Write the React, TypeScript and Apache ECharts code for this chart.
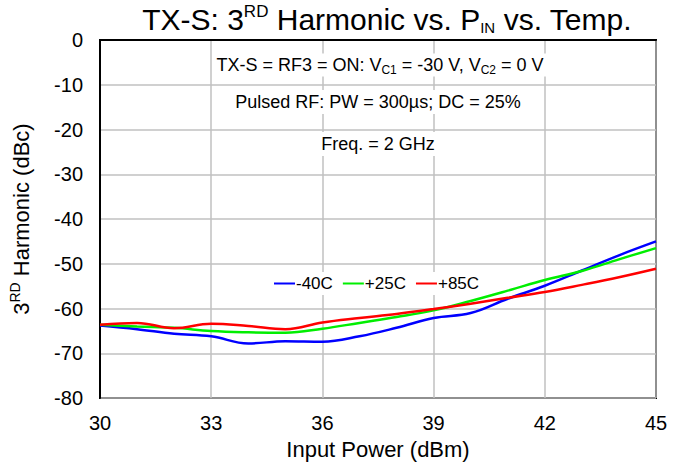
import React, { useEffect, useRef } from "react";
import * as echarts from "echarts";

const inputPower = [30, 31, 32, 33, 34, 35, 36, 37, 38, 39, 40, 41, 42, 43, 44, 45];
const seriesNames = ["-40C", "+25C", "+85C"];
const harmonicM40 = [-63.8, -64.6, -65.6, -66.2, -67.8, -67.3, -67.4, -66.2, -64.3, -62.1, -61.0, -57.8, -54.9, -51.5, -48.1, -45.0];
const harmonicP25 = [-63.6, -64.0, -64.3, -65.0, -65.3, -65.4, -64.5, -63.2, -61.9, -60.4, -58.3, -56.0, -53.6, -51.6, -49.0, -46.5];
const harmonicP85 = [-63.6, -63.2, -64.4, -63.4, -63.9, -64.6, -63.1, -62.1, -61.2, -60.1, -58.9, -57.6, -56.3, -54.7, -53.0, -51.1];
const seriesColors = ["#0000ff", "#00ee00", "#ff0000"];

const FONT = "'Liberation Sans', Arial, sans-serif";

export default function App() {
  const ref = useRef<HTMLDivElement>(null);
  useEffect(() => {
    if (!ref.current) return;
    const chart = echarts.init(ref.current, undefined, { renderer: "svg" });
    const allData = [harmonicM40, harmonicP25, harmonicP85];
    const subRich = {
      sub: { fontSize: 12, fontFamily: FONT, color: "#000", verticalAlign: "bottom", lineHeight: 12, padding: [8, 0, 0, 0] },
    };
    chart.setOption({
      animation: false,
      backgroundColor: "#fff",
      textStyle: { fontFamily: FONT, color: "#000" },
      title: {
        text: "TX-S: 3{sup|RD} Harmonic vs. P{sub|IN} vs. Temp.",
        left: 382,
        textAlign: "center",
        top: -2,
        textStyle: {
          fontSize: 30,
          fontWeight: "normal",
          fontFamily: FONT,
          color: "#000",
          lineHeight: 32,
          rich: {
            sup: { fontSize: 17, fontFamily: FONT, color: "#000", verticalAlign: "top", lineHeight: 32, padding: [0, 0, 12, 0] },
            sub: { fontSize: 15, fontFamily: FONT, color: "#000", verticalAlign: "bottom", lineHeight: 32, padding: [12, 0, 0, 0] },
          },
        },
      },
      grid: {
        left: 100,
        right: 27,
        top: 40,
        bottom: 65,
        show: true,
        borderColor: "#000",
        borderWidth: 2,
        backgroundColor: "transparent",
      },
      legend: {
        data: seriesNames,
        left: 271,
        top: 272,
        icon: "rect",
        itemWidth: 21,
        itemHeight: 2,
        itemGap: 10,
        backgroundColor: "#fff",
        padding: [3, 3],
        textStyle: { fontSize: 17, fontFamily: FONT, color: "#000", padding: [0, 0, 0, -4] },
      },
      xAxis: {
        type: "value",
        min: 30,
        max: 45,
        interval: 3,
        name: "Input Power (dBm)",
        nameLocation: "middle",
        nameGap: 38,
        nameTextStyle: { fontSize: 22, fontFamily: FONT, color: "#000" },
        axisLine: { show: true, lineStyle: { color: "#000", width: 2 } },
        axisTick: { show: false },
        axisLabel: { fontSize: 20, fontFamily: FONT, color: "#000", margin: 15 },
        splitLine: { show: true, lineStyle: { color: "#c0c0c0", width: 1.5 } },
      },
      yAxis: {
        type: "value",
        min: -80,
        max: 0,
        interval: 10,
        name: "3{sup|RD} Harmonic (dBc)",
        nameLocation: "middle",
        nameGap: 66,
        nameRotate: 90,
        nameTextStyle: {
          fontSize: 22,
          fontFamily: FONT,
          color: "#000",
          lineHeight: 26,
          rich: {
            sup: { fontSize: 14, fontFamily: FONT, color: "#000", verticalAlign: "top", lineHeight: 26, padding: [0, 0, 8, 0] },
          },
        },
        axisLine: { show: true, lineStyle: { color: "#000", width: 2 } },
        axisTick: { show: false },
        axisLabel: { fontSize: 20, fontFamily: FONT, color: "#000", margin: 17 },
        splitLine: { show: true, lineStyle: { color: "#c0c0c0", width: 1.5 } },
      },
      graphic: [
        {
          type: "text",
          x: 380,
          y: 65,
          z: 10,
          style: {
            text: "TX-S = RF3 = ON: V{sub|C1} = -30 V, V{sub|C2} = 0 V",
            fontSize: 18,
            fontFamily: FONT,
            fill: "#000",
            align: "center",
            verticalAlign: "middle",
            lineHeight: 21,
            backgroundColor: "#fff",
            padding: [1, 4],
            rich: subRich,
          },
        },
        {
          type: "text",
          x: 378,
          y: 102,
          z: 10,
          style: {
            text: "Pulsed RF: PW = 300µs; DC = 25%",
            fontSize: 18,
            fontFamily: FONT,
            fill: "#000",
            align: "center",
            verticalAlign: "middle",
            backgroundColor: "#fff",
            padding: [3, 4],
          },
        },
        {
          type: "text",
          x: 378,
          y: 144,
          z: 10,
          style: {
            text: "Freq. = 2 GHz",
            fontSize: 18,
            fontFamily: FONT,
            fill: "#000",
            align: "center",
            verticalAlign: "middle",
            backgroundColor: "#fff",
            padding: [3, 4],
          },
        },
      ],
      series: seriesNames.map((name, i) => ({
        name,
        type: "line",
        smooth: 0.4,
        showSymbol: false,
        symbol: "none",
        color: seriesColors[i],
        lineStyle: { color: seriesColors[i], width: 2.5 },
        data: inputPower.map((x, j) => [x, allData[i][j]]),
      })),
    });
    return () => chart.dispose();
  }, []);
  return <div ref={ref} style={{ width: 683, height: 465, position: "absolute", left: 0, top: 0 }} />;
}
